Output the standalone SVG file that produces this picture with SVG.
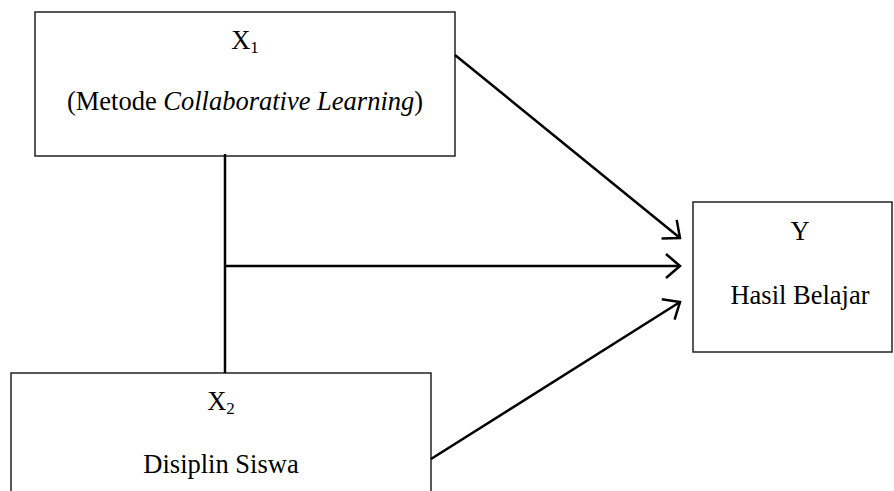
<svg xmlns="http://www.w3.org/2000/svg" width="894" height="491" viewBox="0 0 894 491">
  <style>
    .box { fill: #fff; stroke: #222; stroke-width: 1.5; }
    .t { font-family: "Liberation Serif", "Times New Roman", serif; font-size: 26.5px; fill: #000; text-anchor: middle; }
    .sub { font-size: 17px; }
    .conn { stroke: #000; stroke-width: 2.5; fill: none; }
  </style>
  <defs>
    <marker id="arr" markerUnits="userSpaceOnUse" markerWidth="40" markerHeight="40" refX="20" refY="20" orient="auto" viewBox="0 0 40 40">
      <path d="M6,8 L20,20 L6,32" fill="none" stroke="#000" stroke-width="2.5"/>
    </marker>
  </defs>
  <rect width="894" height="491" fill="#fff"/>
  <g id="x1">
    <rect class="box" x="35" y="12" width="420" height="144"/>
    <text class="t" x="245" y="49">X<tspan class="sub" dy="4">1</tspan></text>
    <text class="t" x="245" y="110">(Metode <tspan font-style="italic">Collaborative Learning</tspan>)</text>
  </g>
  <g id="y">
    <rect class="box" x="693" y="202" width="199" height="150"/>
    <text class="t" x="800" y="240">Y</text>
    <text class="t" x="800" y="304">Hasil Belajar</text>
  </g>
  <g id="x2">
    <rect class="box" x="11" y="373" width="420" height="140"/>
    <text class="t" x="221" y="410">X<tspan class="sub" dy="4">2</tspan></text>
    <text class="t" x="221" y="473">Disiplin Siswa</text>
  </g>
  <g id="connectors">
    <line class="conn" x1="225" y1="154" x2="225" y2="373"/>
    <line class="conn" x1="455" y1="55" x2="680" y2="238" marker-end="url(#arr)"/>
    <line class="conn" x1="225" y1="266" x2="680" y2="266" marker-end="url(#arr)"/>
    <line class="conn" x1="431" y1="459" x2="680" y2="302" marker-end="url(#arr)"/>
  </g>
</svg>
